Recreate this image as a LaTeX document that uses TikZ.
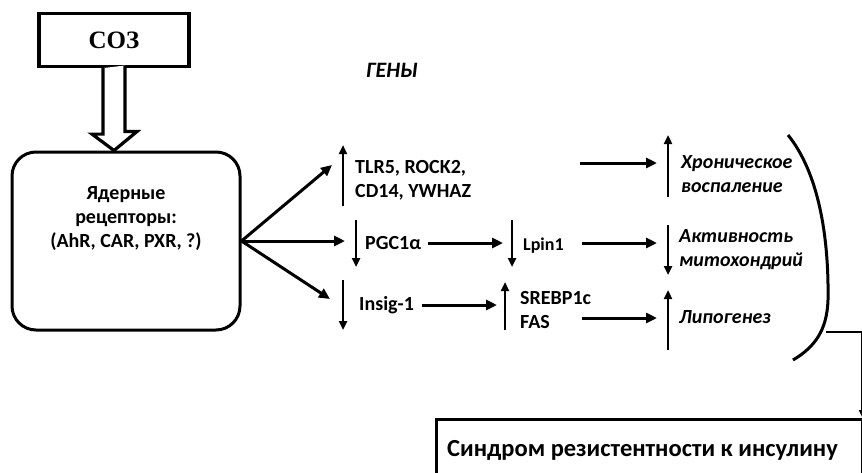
\documentclass[tikz,border=0pt]{standalone}
\usepackage{fontspec}
\setmainfont{Carlito}
\newfontfamily\serifbold{Liberation Serif}
\usetikzlibrary{arrows.meta, calc, positioning}

\begin{document}
\begin{tikzpicture}[x=1pt, y=-1pt,
        box/.style={draw, line width=3.2pt, inner sep=0pt},
        lbl/.style={font=\fontsize{20}{24}\selectfont\bfseries, align=left, inner sep=1pt, anchor=west},
        eff/.style={lbl, font=\fontsize{20}{24}\selectfont\bfseries\itshape},
        arr/.style={line width=3pt, -{Triangle[length=11pt, width=10pt]}},
        ind/.style={line width=2.4pt, -{Triangle[length=9pt, width=8pt]}}]
        \useasboundingbox (0,0) rectangle (862,472);

        % Boxes
        \node (soz) [box, minimum width=150pt, minimum height=53pt, font=\serifbold\bfseries\fontsize{25}{30}\selectfont] at (114,40) {СОЗ};
        \node (recep) [box, line width=3pt, rounded corners=24pt, minimum width=228pt, minimum height=178pt] at (126,241) {};
        \node (recepl) [lbl, align=center, anchor=center] at (126,219) {Ядерные\\рецепторы:\\(AhR, CAR, PXR, ?)};
        \node (ins) [box, line width=3pt, anchor=north west, minimum width=426pt, minimum height=62pt] at (435,418) {};
        \node (insl) [lbl, font=\fontsize{24.5}{28}\selectfont\bfseries] at (446,450) {Синдром резистентности к инсулину};

        % Genes
        \node (geny) [eff, font=\fontsize{22}{26}\selectfont\bfseries\itshape, anchor=center] at (392,70) {ГЕНЫ};
        \node (tlr) [lbl] at (354,180) {TLR5, ROCK2,\\CD14, YWHAZ};
        \node (pgc) [lbl] at (364,243) {PGC1α};
        \node (lpin) [lbl, font=\fontsize{18}{22}\selectfont\bfseries] at (522,246) {Lpin1};
        \node (insig) [lbl] at (358,305) {Insig-1};
        \node (srebp) [lbl] at (519,310) {SREBP1c\\FAS};

        % Effects
        \node (chron) [eff] at (680,174) {Хроническое\\воспаление};
        \node (activ) [eff] at (678,250) {Активность\\митохондрий};
        \node (lipo) [eff] at (678,317) {Липогенез};

        % Hollow arrow
        \draw [line width=3.2pt, fill=white] ($(soz.south)+(-11,0)$) -- ++(0,66) -- ++(-11,0)
            -- (recep.north -| soz.south) -- ++(23,-19) -- ++(-12,0) -- ++(0,-66);

        % Up / down marks
        \draw [ind] ($(tlr.west)+(-11,26)$) -- ++(0,-61);
        \draw [ind] ($(pgc.west)+(-8,-23)$) -- ++(0,47);
        \draw [ind] ($(lpin.west)+(-10,-26)$) -- ++(0,47);
        \draw [ind] ($(insig.west)+(-15,-25)$) -- ++(0,50);
        \draw [ind] ($(srebp.west)+(-14,20)$) -- ++(0,-48);
        \draw [ind] ($(chron.west)+(-12,23)$) -- ++(0,-62);
        \draw [ind] ($(activ.west)+(-10,-25)$) -- ++(0,50);
        \draw [ind] ($(lipo.west)+(-10,33)$) -- ++(0,-60);

        % Lines
        \coordinate (fan1) at (332,165);
        \coordinate (fan3) at (330,299);
        \draw [arr] (recep.east) -- (fan1);
        \draw [arr] (recep.east) -- (345,241);
        \draw [arr] (recep.east) -- (fan3);
        \draw [arr] ([xshift=6pt]pgc.east) -- ([xshift=-19pt]lpin.west |- pgc.east);
        \draw [arr] ([xshift=7pt]insig.east) -- ([xshift=-22pt]srebp.west |- insig.east);

        \coordinate (toinfl) at (580,163);
        \coordinate (tomito) at (582,243);
        \coordinate (tolipo) at (582,318);
        \draw [arr] (toinfl) -- ([xshift=-23pt]chron.west |- toinfl);
        \draw [arr] (tomito) -- ([xshift=-21pt]activ.west |- tomito);
        \draw [arr] (tolipo) -- ([xshift=-21pt]lipo.west |- tolipo);

        % Bracket
        \draw [line width=3pt] (788,135) .. controls (818,172) and (829,235) .. (828,300)
            .. controls (827,330) and (815,347) .. (793,360);
        \coordinate (brk) at (826,332);
        \draw [line width=2.6pt, -{Triangle[length=8pt, width=7pt]}] (brk) -| ([xshift=-1.5pt]ins.north east);
    \end{tikzpicture}
\end{document}
